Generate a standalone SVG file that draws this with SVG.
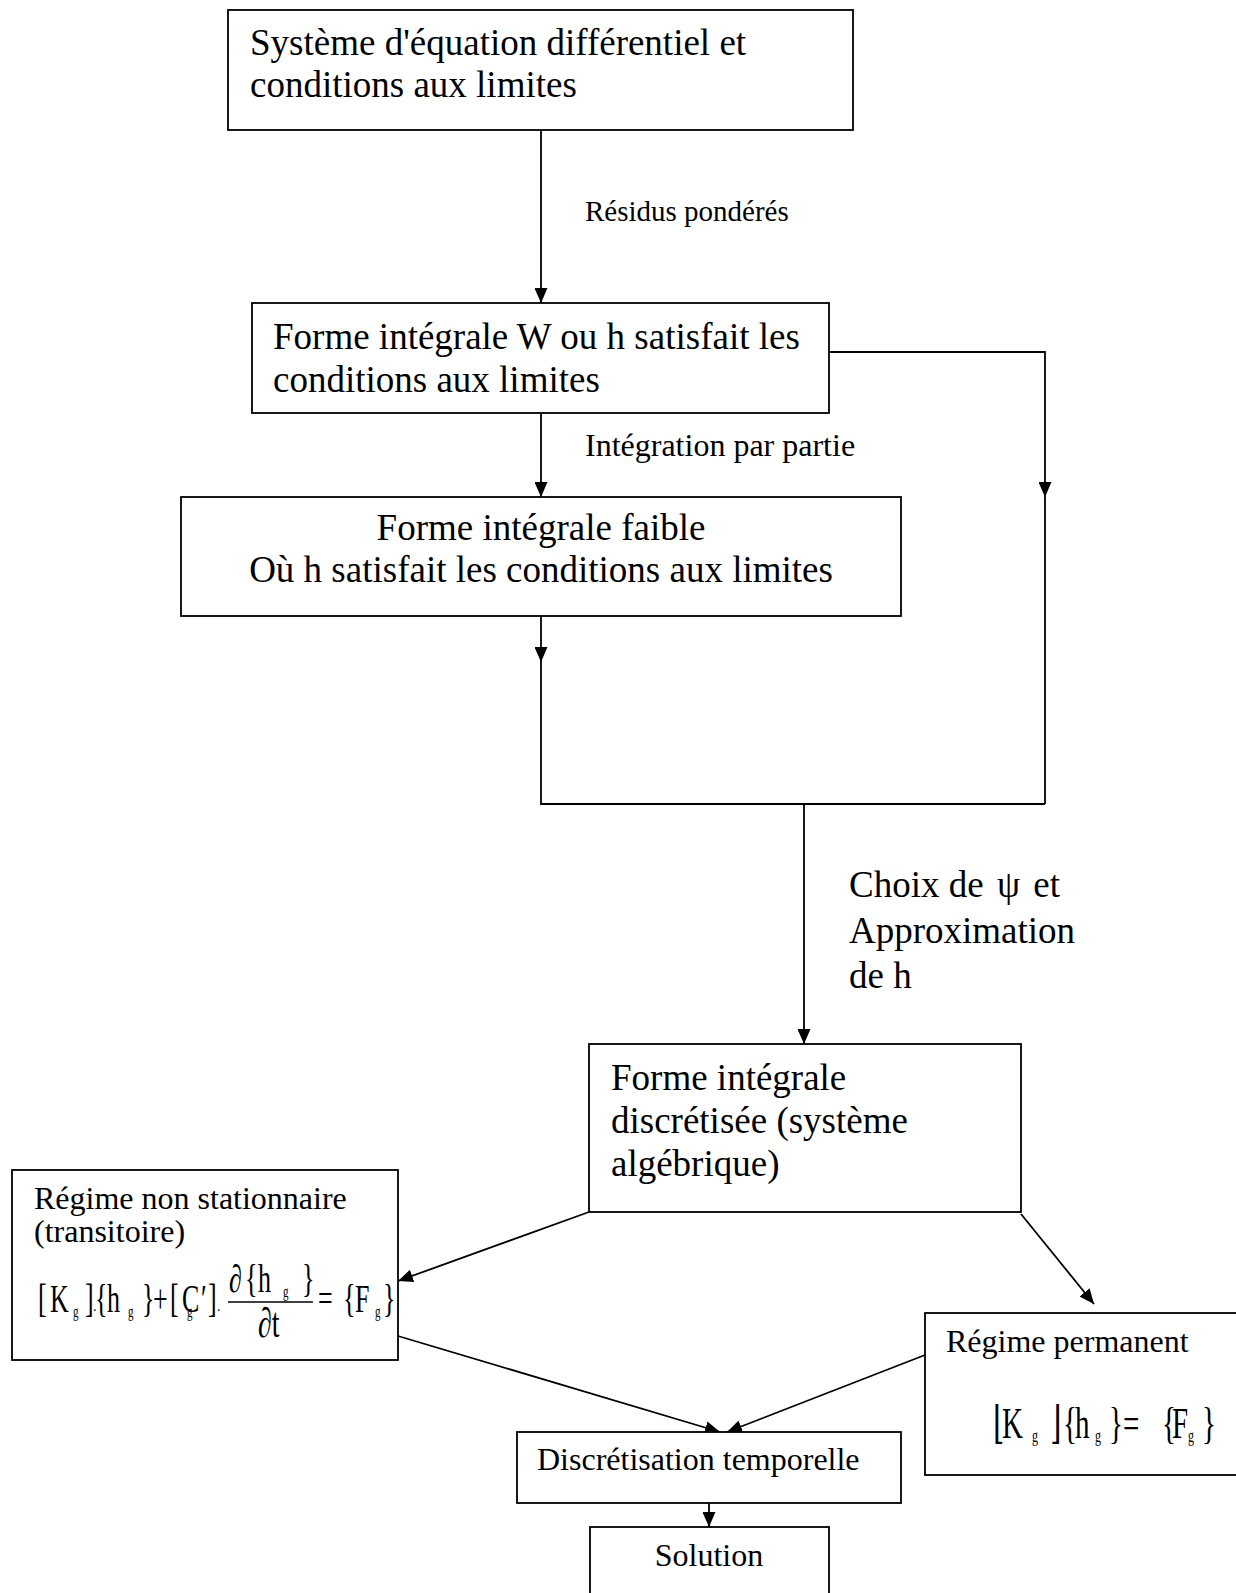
<svg xmlns="http://www.w3.org/2000/svg" width="1236" height="1593" viewBox="0 0 1236 1593">
  <style>
    .box { fill: #ffffff; stroke: #000000; stroke-width: 1.8; }
    .wire { fill: none; stroke: #000000; stroke-width: 1.8; }
    text { font-family: "Liberation Serif", "Times New Roman", "DejaVu Serif", serif; fill: #000000; }
    .big { font-size: 37px; }
    .small { font-size: 32px; }
    .eq { font-size: 26px; }
    .eq2 { font-size: 29px; }
    .sub { font-size: 11px; }
  </style>
  <defs>
    <marker id="ah" viewBox="0 0 15 13" refX="15" refY="6.5" markerWidth="15" markerHeight="13" markerUnits="userSpaceOnUse" orient="auto">
      <path d="M0,0 L15,6.5 L0,13 z" fill="#000000"/>
    </marker>
  </defs>

  <rect width="1236" height="1593" fill="#ffffff"/>

  <!-- connectors -->
  <g id="connectors">
    <path class="wire" d="M541,130 V303" marker-end="url(#ah)"/>
    <path class="wire" d="M541,413 V497" marker-end="url(#ah)"/>
    <path class="wire" d="M829,352 H1045 V497" marker-end="url(#ah)"/>
    <path class="wire" d="M1045,497 V804"/>
    <path class="wire" d="M541,616 V662" marker-end="url(#ah)"/>
    <path class="wire" d="M541,662 V804 H1045"/>
    <path class="wire" d="M804,804 V1044" marker-end="url(#ah)"/>
    <path class="wire" d="M589,1212 L398,1281" marker-end="url(#ah)"/>
    <path class="wire" d="M1021,1214 L1094,1304" marker-end="url(#ah)"/>
    <path class="wire" d="M398,1336 L720,1432" marker-end="url(#ah)"/>
    <path class="wire" d="M925,1355 L727,1432" marker-end="url(#ah)"/>
    <path class="wire" d="M709,1503 V1527" marker-end="url(#ah)"/>
  </g>

  <!-- edge labels -->
  <g id="labels">
    <text style="font-size:29px" x="585" y="221">Résidus pondérés</text>
    <text class="small" x="585" y="456">Intégration par partie</text>
    <text class="big" x="849" y="897">Choix de <tspan dx="4">ψ</tspan><tspan dx="4"> et</tspan></text>
    <text class="big" x="849" y="943">Approximation</text>
    <text class="big" x="849" y="988">de h</text>
  </g>

  <g id="node-systeme">
    <rect class="box" x="228" y="10" width="625" height="120"/>
    <text class="big" x="250" y="55">Système d'équation différentiel et</text>
    <text class="big" x="250" y="97">conditions aux limites</text>
  </g>

  <g id="node-forme-integrale">
    <rect class="box" x="252" y="303" width="577" height="110"/>
    <text class="big" x="273" y="349">Forme intégrale W ou h satisfait les</text>
    <text class="big" x="273" y="392">conditions aux limites</text>
  </g>

  <g id="node-forme-faible">
    <rect class="box" x="181" y="497" width="720" height="119"/>
    <text class="big" x="541" y="540" text-anchor="middle">Forme intégrale faible</text>
    <text class="big" x="541" y="582" text-anchor="middle">Où h satisfait les conditions aux limites</text>
  </g>

  <g id="node-discretisee">
    <rect class="box" x="589" y="1044" width="432" height="168"/>
    <text class="big" x="611" y="1090">Forme intégrale</text>
    <text class="big" x="611" y="1133">discrétisée (système</text>
    <text class="big" x="611" y="1176">algébrique)</text>
  </g>

  <g id="node-transitoire">
    <rect class="box" x="12" y="1170" width="386" height="190"/>
    <text class="small" x="34" y="1209">Régime non stationnaire</text>
    <text class="small" x="34" y="1242">(transitoire)</text>
    <!-- [Kg]{hg}+[C'g].d{hg}/dt={Fg}, set in a tall equation style -->
    <g transform="translate(0,1312) scale(1,1.5) translate(0,-1312)">
      <text class="eq" y="1312"><tspan x="38">[</tspan><tspan x="50">K</tspan><tspan x="85">]</tspan><tspan x="95">{</tspan><tspan x="107">h</tspan><tspan x="142">}</tspan><tspan x="153">+</tspan><tspan x="170">[</tspan><tspan x="182">C</tspan><tspan x="201">′</tspan><tspan x="208">]</tspan><tspan x="318">=</tspan><tspan x="343">{</tspan><tspan x="355">F</tspan><tspan x="383">}</tspan></text>
      <text class="sub" y="1315.3"><tspan x="73">g</tspan><tspan x="128">g</tspan><tspan x="187">g</tspan><tspan x="375">g</tspan></text>
      <text class="eq" y="1298.7"><tspan x="229">∂</tspan><tspan x="245">{</tspan><tspan x="258">h</tspan><tspan x="302">}</tspan></text>
      <text class="sub" x="283" y="1302">g</text>
      <text class="eq" style="font-size:28px" x="258" y="1328.7">∂t</text>
    </g>
    <text x="93" y="1311" font-size="14">.</text>
    <text x="217" y="1311" font-size="14">.</text>
    <line x1="228" y1="1302" x2="313" y2="1302" stroke="#000000" stroke-width="1.5"/>
  </g>

  <g id="node-permanent">
    <rect class="box" x="925" y="1313" width="320" height="162"/>
    <text class="small" x="946" y="1352">Régime permanent</text>
    <!-- [Kg].{hg}={Fg}, set in a tall equation style -->
    <g transform="translate(0,1438) scale(1,1.55) translate(0,-1438)">
      <text class="eq2" y="1438"><tspan x="993">⌊</tspan><tspan x="1002">K</tspan><tspan x="1050">⌋</tspan><tspan x="1063">{</tspan><tspan x="1075">h</tspan><tspan x="1109">}</tspan><tspan x="1123">=</tspan><tspan x="1162">{</tspan><tspan x="1172">F</tspan><tspan x="1202">}</tspan></text>
      <text class="sub" style="font-size:12px" y="1440.6"><tspan x="1032">g</tspan><tspan x="1095">g</tspan><tspan x="1188">g</tspan></text>
    </g>
    <text x="1056" y="1430" font-size="14">.</text>
  </g>

  <g id="node-temporelle">
    <rect class="box" x="517" y="1432" width="384" height="71"/>
    <text class="small" x="537" y="1470">Discrétisation temporelle</text>
  </g>

  <g id="node-solution">
    <rect class="box" x="590" y="1527" width="239" height="100"/>
    <text class="small" x="709" y="1566" text-anchor="middle">Solution</text>
  </g>
</svg>
